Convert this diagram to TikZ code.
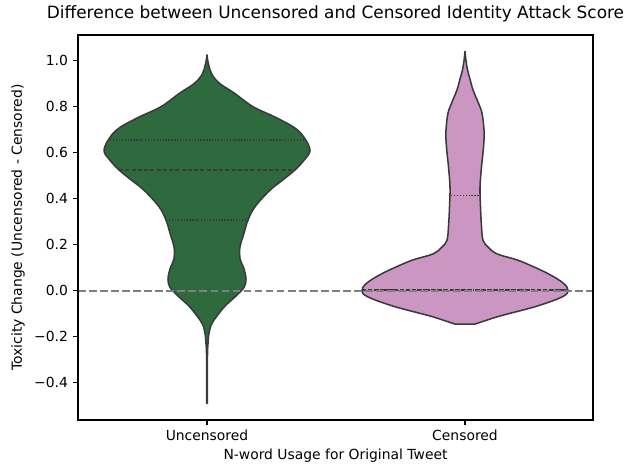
\documentclass[tikz,border=0pt]{standalone}
\usepackage{fontspec}
\setmainfont{DejaVu Sans}
\definecolor{ungreen}{HTML}{2E6A3D}
\definecolor{cenpink}{HTML}{CC96C2}
\definecolor{edgegray}{HTML}{3A3A3A}
\tikzset{
  violin/.style={draw=edgegray, line width=1.1pt, line join=round},
  quartline/.style={draw=edgegray, line width=1pt, dash pattern=on 1pt off 1.1pt},
  medline/.style={draw=edgegray, line width=1pt, dash pattern=on 3pt off 1.5pt},
  refline/.style={draw=gray, line width=1.5pt, dash pattern=on 5.55pt off 2.4pt},
  spine/.style={draw=black, line width=0.8pt},
  ticklab/.style={font=\fontsize{10}{12}\selectfont, inner sep=0pt},
  titlelab/.style={font=\fontsize{12.2}{14}\selectfont, inner sep=0pt}}
\begin{document}
\begin{tikzpicture}[x=0.72pt, y=-0.72pt]
\useasboundingbox (0,0) rectangle (631,464);
% data space: x in px, y in toxicity units
\begin{scope}[shift={(0,290.7)}, y={(0pt,165.6pt)}]
  % Uncensored violin
  \filldraw[violin, fill=ungreen, shift={(207,0)}]
    plot[smooth, tension=0.6] coordinates {(0,1.025) (1.5,0.985) (5,0.94) (13,0.90) (27,0.86)
      (46,0.80) (67,0.757) (87,0.71) (97,0.667) (103,0.61) (97,0.567) (88,0.525) (76,0.482)
      (63,0.437) (48,0.365) (41,0.307) (37,0.25) (33,0.19) (33,0.14) (37,0.095) (39,0.05)
      (37,0.014) (29,-0.023) (18,-0.067) (10,-0.11) (4,-0.15) (1.5,-0.2)}
    -- (0.5,-0.26) -- (0.3,-0.49) -- (-0.3,-0.49) -- (-0.5,-0.26)
    -- plot[smooth, tension=0.6] coordinates {(-1.5,-0.2) (-4,-0.15)
      (-10,-0.11) (-18,-0.067) (-29,-0.023) (-37,0.014) (-39,0.05) (-37,0.095) (-33,0.14)
      (-33,0.19) (-37,0.25) (-41,0.307) (-48,0.365) (-63,0.437) (-76,0.482) (-88,0.525)
      (-97,0.567) (-103,0.61) (-97,0.667) (-87,0.71) (-67,0.757) (-46,0.80) (-27,0.86)
      (-13,0.90) (-5,0.94) (-1.5,0.985) (0,1.025)} -- cycle;
  \draw[quartline] (207-97,0.655) -- (207+97,0.655);
  \draw[medline] (207-88,0.525) -- (207+88,0.525);
  \draw[quartline] (207-41,0.307) -- (207+41,0.307);
  % Censored violin
  \filldraw[violin, fill=cenpink, shift={(465,0)}]
    plot[smooth, tension=0.6] coordinates {(0,1.04) (1,1.0) (2.5,0.96) (5,0.92) (8,0.873)
      (13,0.82) (17,0.772) (19,0.70) (19,0.655) (18,0.60) (16.5,0.538) (15,0.45) (15.5,0.364)
      (16.5,0.28) (18,0.22) (23,0.19) (32,0.16) (52,0.134) (68,0.105) (84,0.072) (98,0.034)
      (103,0.003) (98,-0.025) (72,-0.067) (35,-0.11) (17,-0.135) (10,-0.145)}
    -- plot[smooth, tension=0.6] coordinates {(-10,-0.145) (-17,-0.135) (-35,-0.11)
      (-72,-0.067) (-98,-0.025) (-103,0.003) (-98,0.034) (-84,0.072) (-68,0.105) (-52,0.134)
      (-32,0.16) (-23,0.19) (-18,0.22) (-16.5,0.28) (-15.5,0.364) (-15,0.45) (-16.5,0.538)
      (-18,0.60) (-19,0.655) (-19,0.70) (-17,0.772) (-13,0.82) (-8,0.873) (-5,0.92)
      (-2.5,0.96) (-1,1.0) (0,1.04)} -- cycle;
  \draw[quartline] (465-14,0.413) -- (465+14,0.413);
  \draw[medline] (465-103,0.003) -- (465+103,0.003);
  \draw[quartline] (465-103,0.003) -- (465+103,0.003);
  % zero line
  \draw[refline] (78,0) -- (593,0);
  % y ticks
  \foreach \v/\t [count=\k] in {1.0/1.0, 0.8/0.8, 0.6/0.6, 0.4/0.4, 0.2/0.2, 0.0/0.0,
      -0.2/−0.2, -0.4/−0.4} {
    \draw[spine] (78,\v) -- (73.1,\v);
    \node[ticklab, anchor=east] (yt\k) at (68.2,\v) {\t};
  }
\end{scope}
% axes frame and x ticks
\draw[spine] (78,35) rectangle (593,420);
\draw[spine] (207,420) -- (207,424.9);
\draw[spine] (465,420) -- (465,424.9);
\node[ticklab, anchor=north] (xtU) at (207,429.8) {Uncensored};
\node[ticklab, anchor=north] (xtC) at (465,429.8) {Censored};
\node[ticklab] (xlab) at (335.5,455.5) {N-word Usage for Original Tweet};
\node[ticklab, rotate=90] (ylab) at (18,227.5) {Toxicity Change (Uncensored - Censored)};
\node[titlelab] (title) at (335.5,14) {Difference between Uncensored and Censored Identity Attack Score};
\end{tikzpicture}
\end{document}
